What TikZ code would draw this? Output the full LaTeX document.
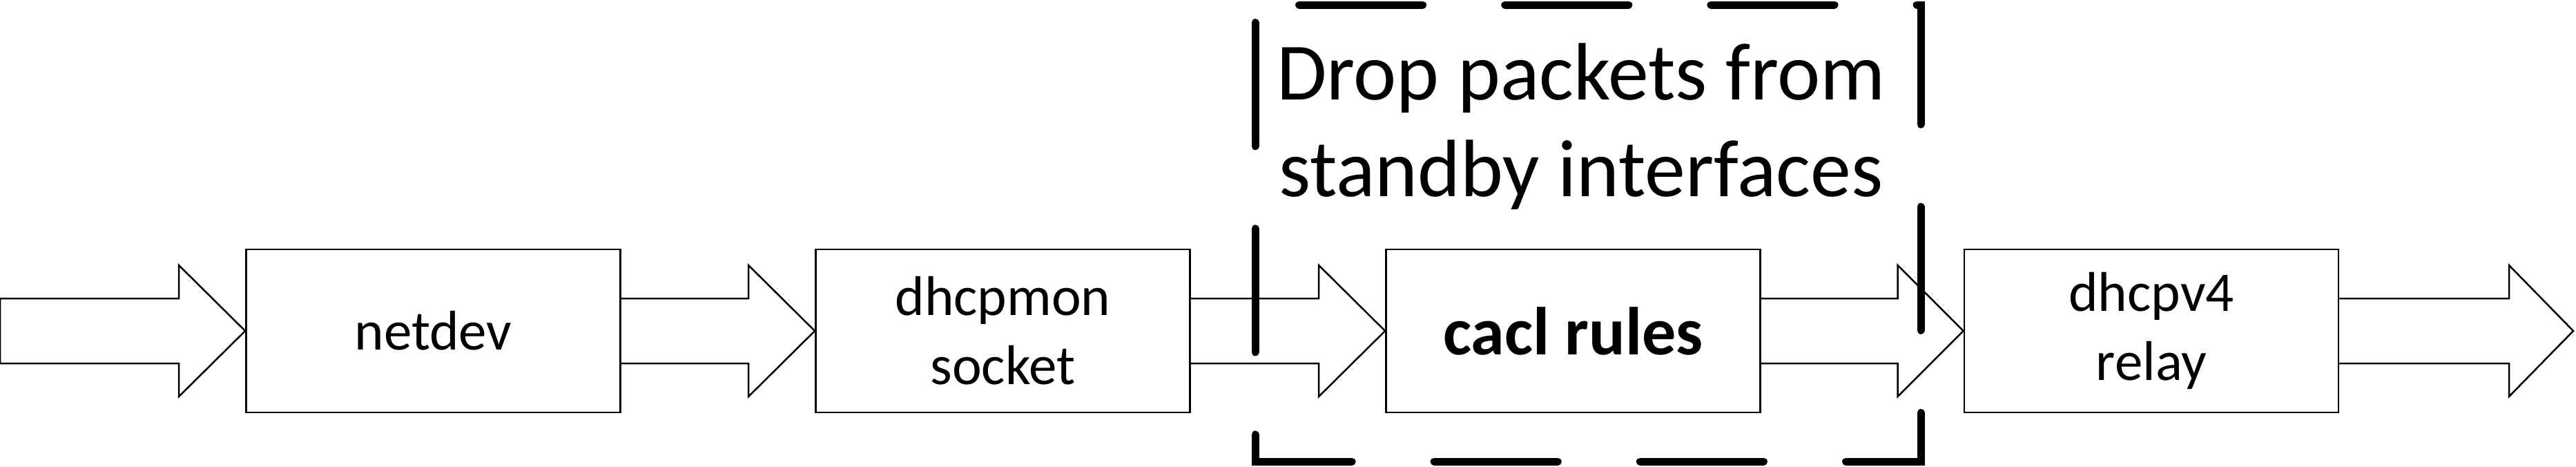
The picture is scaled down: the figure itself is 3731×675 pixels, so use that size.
\documentclass[tikz,border=0pt]{standalone}
\usepackage{fontspec}
\setmainfont{Carlito}
\usetikzlibrary{calc}
\begin{document}
\begin{tikzpicture}[x=0.01cm,y=-0.01cm,
  stage/.style={draw,line width=0.025cm,minimum width=5.42cm,minimum height=2.36cm,inner sep=0pt,
    align=center,font=\fontsize{23.05pt}{28.45pt}\selectfont},
  blockarr/.style={draw,line width=0.025cm,fill=white,line join=miter},
  zone/.style={draw,line width=0.11cm,line cap=round,dash pattern=on 1.79cm off 1.19cm,dash phase=2.345cm}]
\useasboundingbox (0,0) rectangle (3731,675);
\node[stage] (netdev) at (627.5,479) {netdev};
\node[stage] (dhcpmon) at (1452.5,479) {dhcpmon\\socket};
\node[stage,font=\fontsize{27.9pt}{33pt}\selectfont\bfseries] (cacl) at (2278.5,479) {cacl rules};
\node[stage] (relay) at (3116,479) {dhcpv4\\relay};
\coordinate (src) at (0,479);
\coordinate (dst) at (3727,479);
% arrow into netdev
\draw[blockarr] ($(src)+(0,-47)$) -- ($(netdev.west)+(-96,-47)$) -- ($(netdev.west)+(-96,-95)$) -- (netdev.west)
  -- ($(netdev.west)+(-96,95)$) -- ($(netdev.west)+(-96,47)$) -- ($(src)+(0,47)$) -- cycle;
% netdev -> dhcpmon
\draw[blockarr] ($(netdev.east)+(0,-47)$) -- ($(dhcpmon.west)+(-96,-47)$) -- ($(dhcpmon.west)+(-96,-95)$) -- (dhcpmon.west)
  -- ($(dhcpmon.west)+(-96,95)$) -- ($(dhcpmon.west)+(-96,47)$) -- ($(netdev.east)+(0,47)$);
% dhcpmon -> cacl
\draw[blockarr] ($(dhcpmon.east)+(0,-47)$) -- ($(cacl.west)+(-96,-47)$) -- ($(cacl.west)+(-96,-95)$) -- (cacl.west)
  -- ($(cacl.west)+(-96,95)$) -- ($(cacl.west)+(-96,47)$) -- ($(dhcpmon.east)+(0,47)$);
% cacl -> relay
\draw[blockarr] ($(cacl.east)+(0,-47)$) -- ($(relay.west)+(-95,-47)$) -- ($(relay.west)+(-95,-95)$) -- (relay.west)
  -- ($(relay.west)+(-95,95)$) -- ($(relay.west)+(-95,47)$) -- ($(cacl.east)+(0,47)$);
% relay -> out
\draw[blockarr] ($(relay.east)+(0,-47)$) -- ($(dst)+(-93,-47)$) -- ($(dst)+(-93,-95)$) -- (dst)
  -- ($(dst)+(-93,95)$) -- ($(dst)+(-93,47)$) -- ($(relay.east)+(0,47)$);
% dashed zone
\coordinate (ztl) at (1818,7);
\coordinate (ztr) at (2782,7);
\coordinate (zbr) at (2782,668);
\coordinate (zbl) at (1818,668);
\node[align=center,inner sep=0pt,anchor=base,font=\fontsize{33.5pt}{39.8pt}\selectfont] (droplabel) at (2290,284) {Drop packets from\\standby interfaces};
\draw[zone] (ztl) -- (ztr) -- (zbr) -- (zbl) -- cycle;
\end{tikzpicture}
\end{document}
